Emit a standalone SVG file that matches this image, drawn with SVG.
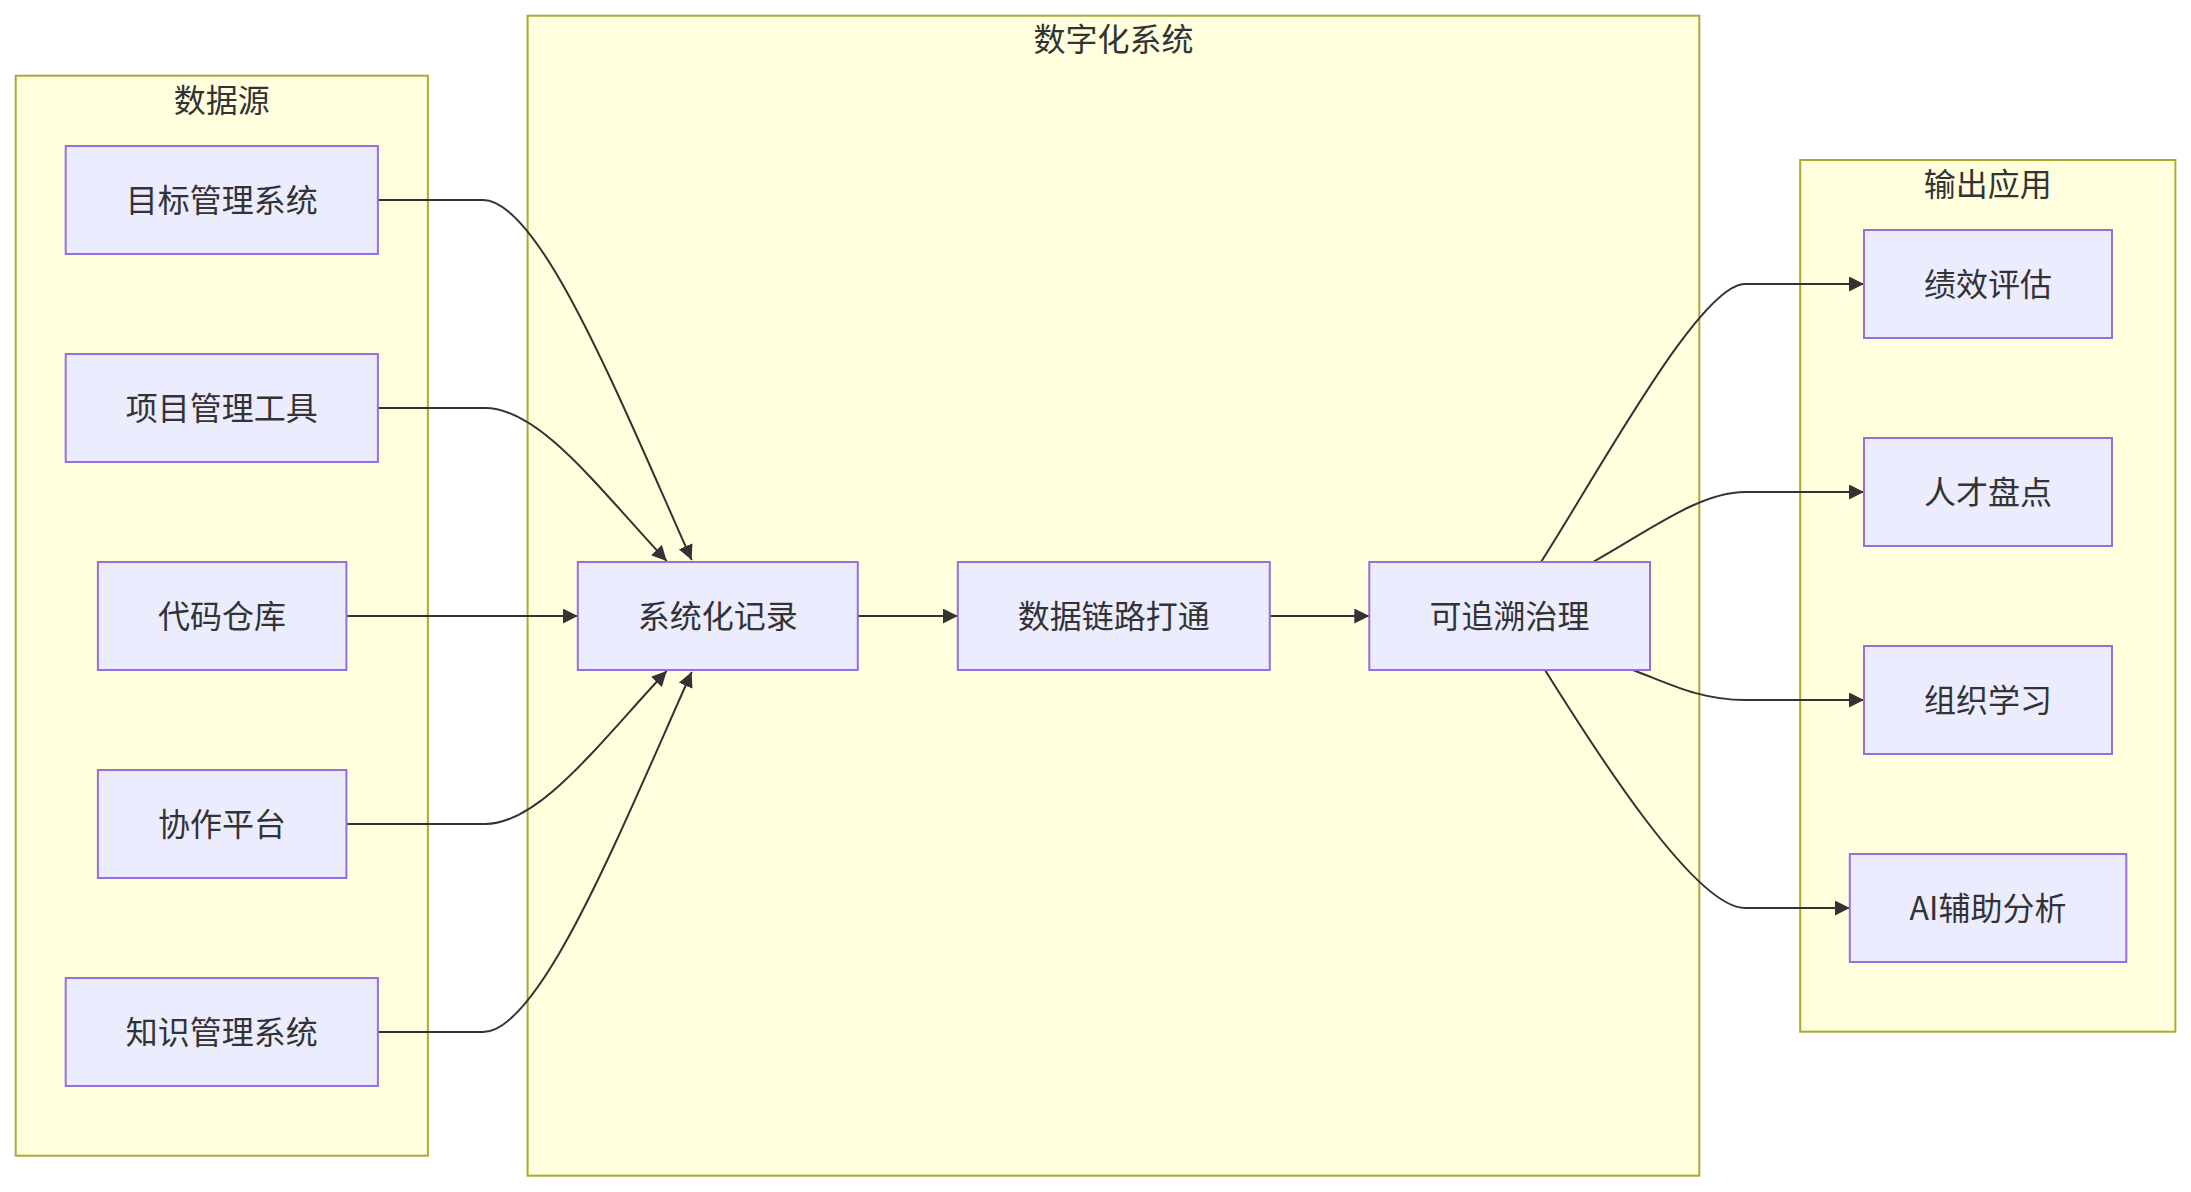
<svg xmlns="http://www.w3.org/2000/svg" width="2191" height="1192" viewBox="0 0 2191 1192">
<style>
.cluster{fill:#ffffde;stroke:#aaaa33;stroke-width:2}
.node rect{fill:#ECECFF;stroke:#9370DB;stroke-width:2}
text{font-family:"Noto Sans CJK SC","Noto Sans",sans-serif;font-size:32px;fill:#333333;text-anchor:middle}
.edge{fill:none;stroke:#333333;stroke-width:2}
</style>
<defs>
<marker id="arrow" viewBox="0 0 10 10" refX="10" refY="5" markerUnits="userSpaceOnUse" markerWidth="15" markerHeight="15" orient="auto">
<path d="M0,0 L10,5 L0,10 z" fill="#333333"/>
</marker>
</defs>
<rect width="2191" height="1192" fill="#ffffff"/>
<g id="clusters">
<g id="cluster-sources"><rect class="cluster" x="15.7" y="75.7" width="412.2" height="1080"/><text x="221.8" y="112">数据源</text></g>
<g id="cluster-digital"><rect class="cluster" x="527.6" y="15.7" width="1171.7" height="1160"/><text x="1113.5" y="51">数字化系统</text></g>
<g id="cluster-output"><rect class="cluster" x="1800.2" y="160" width="375.2" height="871.7"/><text x="1987.8" y="196">输出应用</text></g>
</g>
<g id="edges">
<path class="edge" d="M377.9,200 L483,200 C540,200 620,400 691.7,560" marker-end="url(#arrow)"/>
<path class="edge" d="M377.9,408 L485,408 C540,408 600,490 666.7,561" marker-end="url(#arrow)"/>
<path class="edge" d="M346.4,616 L577.8,616" marker-end="url(#arrow)"/>
<path class="edge" d="M346.4,824 L485,824 C540,824 600,742 666.7,671" marker-end="url(#arrow)"/>
<path class="edge" d="M377.9,1032 L483,1032 C540,1032 620,832 691.7,672" marker-end="url(#arrow)"/>
<path class="edge" d="M857.8,616 L957.8,616" marker-end="url(#arrow)"/>
<path class="edge" d="M1269.8,616 L1369.3,616" marker-end="url(#arrow)"/>
<path class="edge" d="M1541,562 C1600,470 1700,284 1745,284 L1864,284" marker-end="url(#arrow)"/>
<path class="edge" d="M1593,562 C1650,530 1700,492 1745,492 L1864,492" marker-end="url(#arrow)"/>
<path class="edge" d="M1633,670 C1670,684 1700,700 1745,700 L1864,700" marker-end="url(#arrow)"/>
<path class="edge" d="M1545,670 C1595,750 1695,908 1745,908 L1849.8,908" marker-end="url(#arrow)"/>
</g>
<g id="n-goal" class="node"><rect x="65.7" y="146" width="312.2" height="108"/><text x="221.8" y="212">目标管理系统</text></g>
<g id="n-project" class="node"><rect x="65.7" y="354" width="312.2" height="108"/><text x="221.8" y="420">项目管理工具</text></g>
<g id="n-code" class="node"><rect x="97.9" y="562" width="248.5" height="108"/><text x="222.1" y="628">代码仓库</text></g>
<g id="n-collab" class="node"><rect x="97.9" y="770" width="248.5" height="108"/><text x="222.1" y="836">协作平台</text></g>
<g id="n-knowledge" class="node"><rect x="65.7" y="978" width="312.2" height="108"/><text x="221.8" y="1044">知识管理系统</text></g>
<g id="n-record" class="node"><rect x="577.8" y="562" width="280" height="108"/><text x="717.8" y="628">系统化记录</text></g>
<g id="n-link" class="node"><rect x="957.8" y="562" width="312" height="108"/><text x="1113.8" y="628">数据链路打通</text></g>
<g id="n-trace" class="node"><rect x="1369.3" y="562" width="280.7" height="108"/><text x="1509.6" y="628">可追溯治理</text></g>
<g id="n-perf" class="node"><rect x="1864" y="230" width="248" height="108"/><text x="1988" y="296">绩效评估</text></g>
<g id="n-talent" class="node"><rect x="1864" y="438" width="248" height="108"/><text x="1988" y="504">人才盘点</text></g>
<g id="n-learn" class="node"><rect x="1864" y="646" width="248" height="108"/><text x="1988" y="712">组织学习</text></g>
<g id="n-ai" class="node"><rect x="1849.8" y="854" width="276.5" height="108"/><text x="1988" y="920">AI辅助分析</text></g>
</svg>
